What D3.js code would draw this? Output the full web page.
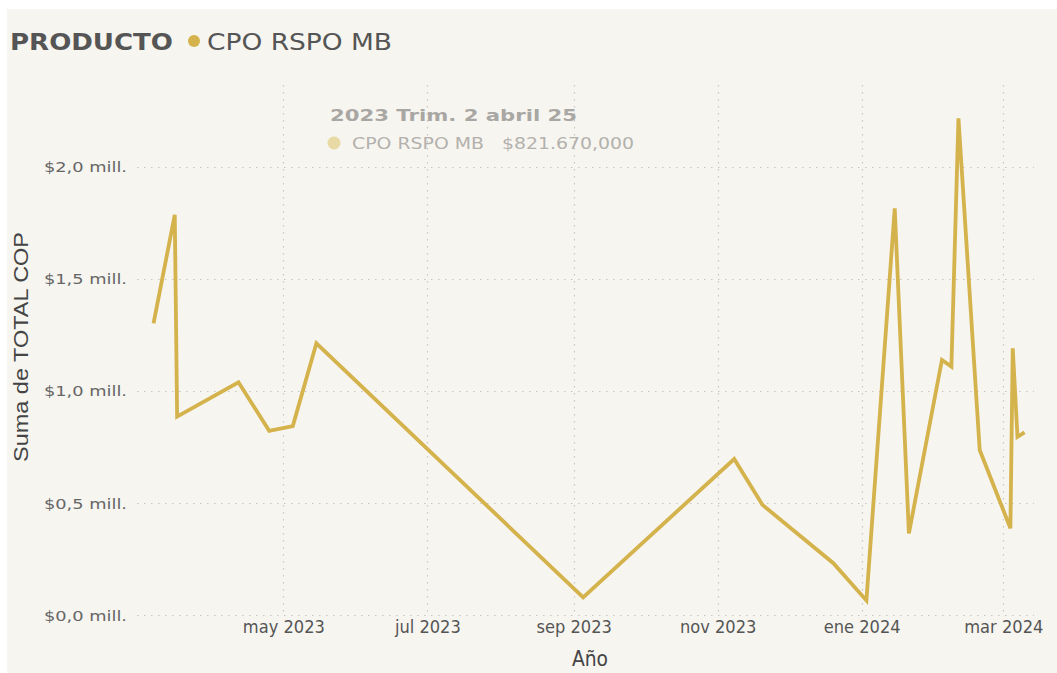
<!DOCTYPE html>
<html><head><meta charset="utf-8">
<script src="https://cdn.jsdelivr.net/npm/d3@7/dist/d3.min.js"></script>
<style>
html,body{margin:0;padding:0;background:#ffffff;}
svg{display:block;}
</style></head>
<body>
<svg id="chart" width="1057" height="673"></svg>
<script>
const dates = ["2023-03-07","2023-03-16","2023-03-17","2023-04-12","2023-04-25","2023-05-05","2023-05-15","2023-09-05","2023-11-08","2023-11-20","2023-12-20","2024-01-03","2024-01-15","2024-01-21","2024-02-04","2024-02-08","2024-02-11","2024-02-20","2024-03-04","2024-03-05","2024-03-07","2024-03-10"];
const values = [1301000,1785000,885000,1038000,821670,843000,1212000,79000,696000,491000,231000,65000,1814000,364000,1138000,1108000,2216000,736000,387000,1190000,795000,815000];
const xTickDates = ["2023-05-01","2023-07-01","2023-09-01","2023-11-01","2024-01-01","2024-03-01"];
const xTickLabels = ["may 2023","jul 2023","sep 2023","nov 2023","ene 2024","mar 2024"];
const yTicks = [0,500000,1000000,1500000,2000000];
const seriesName = "CPO RSPO MB";
const legendTitle = "PRODUCTO";
const tooltipTitle = "2023 Trim. 2 abril 25";
const tooltipValue = "$821.670,000";

const parse = d3.timeParse("%Y-%m-%d");
const data = dates.map((d,i)=>({date:parse(d), value:values[i]}));

const svg = d3.select("#chart");
const W = 1057, H = 673;
const BG = "#f7f5f0", GOLD = "#d4b24c";

svg.append("rect").attr("x",7).attr("y",9).attr("width",W).attr("height",H).attr("fill",BG);

const plot = {left:137, right:1034, top:85, bottom:615};
const x = d3.scaleTime().domain([parse("2023-02-28"), parse("2024-03-14")]).range([plot.left, plot.right]);
const y = d3.scaleLinear().domain([0, 2400000]).range([plot.bottom, plot.bottom - 537.96]);

function fit(sel, w){ const n=sel.node(); const l=n.getComputedTextLength(); if(l>0){ sel.attr("textLength", w).attr("lengthAdjust","spacingAndGlyphs"); } return sel; }
function squeeze(sel, f){ const l=sel.node().getComputedTextLength(); if(l>0){ sel.attr("textLength", l*f).attr("lengthAdjust","spacingAndGlyphs"); } return sel; }

// grid
const g = svg.append("g");
g.selectAll("line.h").data(yTicks).join("line")
  .attr("x1",plot.left).attr("x2",plot.right)
  .attr("y1",d=>Math.round(y(d))+0.5).attr("y2",d=>Math.round(y(d))+0.5)
  .attr("stroke","#c9c6c0").attr("stroke-width",1.2).attr("stroke-dasharray","1.5,5.5");
g.selectAll("line.v").data(xTickDates).join("line")
  .attr("x1",d=>Math.round(x(parse(d)))+0.5).attr("x2",d=>Math.round(x(parse(d)))+0.5)
  .attr("y1",plot.top).attr("y2",plot.bottom)
  .attr("stroke","#c9c6c0").attr("stroke-width",1.2).attr("stroke-dasharray","1.5,5.5");

// y axis labels
const yAxis = d3.axisLeft(y).tickValues(yTicks).tickSize(0).tickPadding(0)
  .tickFormat(v=>"$"+(v/1e6).toFixed(1).replace(".",",")+" mill.");
const ya = svg.append("g").attr("transform","translate(127,0)").call(yAxis);
ya.select(".domain").remove();
ya.selectAll("text").attr("font-family","'DejaVu Sans',Verdana,sans-serif").attr("font-size",14.5).attr("fill","#666").attr("dy","0.35em");
ya.selectAll("text").each(function(){ fit(d3.select(this), 83); });

// x axis labels
const xAxis = d3.axisBottom(x).tickValues(xTickDates.map(parse)).tickSize(0).tickPadding(0)
  .tickFormat((d,i)=>xTickLabels[i]);
const xa = svg.append("g").attr("transform","translate(0,621)").call(xAxis);
xa.select(".domain").remove();
xa.selectAll("text").attr("font-family","'DejaVu Sans',sans-serif").attr("font-size",17.5).attr("fill","#555").attr("dy","0.71em");
xa.selectAll("text").each(function(){ squeeze(d3.select(this), 0.93); });

// axis titles
const ax = svg.append("text").attr("x",590).attr("y",666).attr("text-anchor","middle")
  .attr("font-family","'DejaVu Sans',sans-serif").attr("font-size",22).attr("fill","#444").text("Año");
squeeze(ax, 0.85);
const yt = svg.append("text").attr("transform","translate(28,347) rotate(-90)").attr("text-anchor","middle")
  .attr("font-family","'Liberation Sans',Arial,sans-serif").attr("font-size",20.5).attr("fill","#444").text("Suma de TOTAL COP");
fit(yt, 230);

// line
const line = d3.line().x(d=>x(d.date)).y(d=>y(d.value));
svg.append("path").datum(data).attr("d",line).attr("fill","none")
  .attr("stroke",GOLD).attr("stroke-width",3.8).attr("stroke-linejoin","miter").attr("stroke-miterlimit",3).attr("stroke-linecap","butt");

// legend
const lt = svg.append("text").attr("x",10).attr("y",50).attr("font-family","'DejaVu Sans',Verdana,sans-serif")
  .attr("font-weight","bold").attr("font-size",23.5).attr("fill","#555").text(legendTitle);
fit(lt, 163);
svg.append("circle").attr("cx",194).attr("cy",41).attr("r",6).attr("fill",GOLD);
const ls = svg.append("text").attr("x",207).attr("y",50).attr("font-family","'DejaVu Sans',Verdana,sans-serif")
  .attr("font-size",23).attr("fill","#555").text(seriesName);
fit(ls, 185);

// tooltip (static)
const tt = svg.append("text").attr("x",330).attr("y",121).attr("font-family","'DejaVu Sans',Verdana,sans-serif")
  .attr("font-weight","bold").attr("font-size",16.5).attr("fill","#a9a7a3").text(tooltipTitle);
fit(tt, 247);
svg.append("circle").attr("cx",334).attr("cy",143).attr("r",6.5).attr("fill","#e9d9a4");
const t1 = svg.append("text").attr("x",352).attr("y",149).attr("font-family","'DejaVu Sans',Verdana,sans-serif")
  .attr("font-size",15.5).attr("fill","#b3b1ad").text(seriesName);
fit(t1, 132);
const t2 = svg.append("text").attr("x",502).attr("y",149).attr("font-family","'DejaVu Sans',Verdana,sans-serif")
  .attr("font-size",15.5).attr("fill","#b3b1ad").text(tooltipValue);
fit(t2, 132);
</script>
</body></html>
